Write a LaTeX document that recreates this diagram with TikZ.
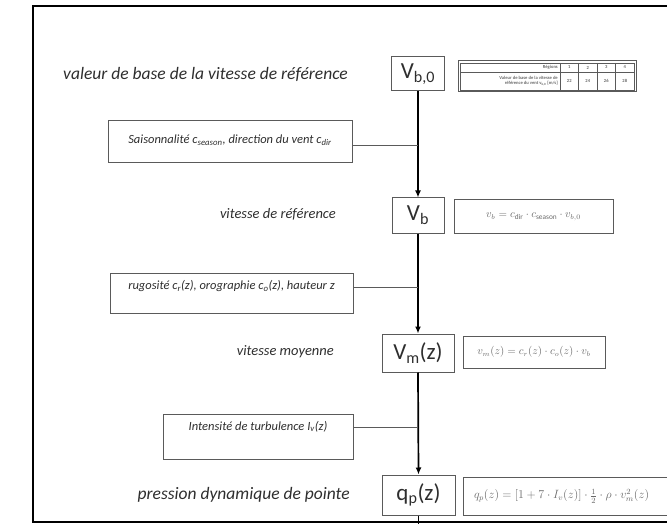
\documentclass[tikz,border=0pt]{standalone}
\usepackage{fontspec}
\setmainfont{Carlito}
\usetikzlibrary{arrows.meta}
\definecolor{boxline}{HTML}{5A5A5A}
\definecolor{ink}{HTML}{2E2E2E}
\definecolor{faint}{HTML}{6A6A6A}
\tikzset{
  frame/.style={draw=black, line width=2pt},
  qtybox/.style={draw=boxline, line width=1pt, inner sep=0pt, text=ink,
    font=\fontsize{23}{25}\selectfont},
  formbox/.style={draw=boxline, line width=1pt, inner sep=0pt, text=faint,
    font=\fontsize{10.5}{12}\selectfont},
  inbox/.style={draw=boxline, line width=0.8pt, inner sep=0pt, text=ink,
    font=\fontsize{12.5}{14}\itshape\selectfont},
  steplabel/.style={text=ink, inner sep=0pt, font=\fontsize{17.5}{19}\itshape\selectfont},
  smalllabel/.style={steplabel, font=\fontsize{14.5}{16}\itshape\selectfont},
  flow/.style={draw=black, line width=1.7pt, -{Latex[length=7pt,width=6pt]}},
  feed/.style={draw=boxline, line width=0.8pt},
}
\begin{document}
\begin{tikzpicture}[x=1pt,y=-1pt]
\useasboundingbox (0,0) rectangle (667,524);
% outer frame, running past the right edge
\begin{scope}
  \clip (0,0) rectangle (667,524);
  \draw[frame] (33,6) rectangle (720,522);
\end{scope}

% quantities in the central column
\node[qtybox, minimum width=53, minimum height=34] (vb0) at (418,74) {V\textsubscript{b,0}};
\node[qtybox, minimum width=52, minimum height=35] (vb) at (418,215.5) {V\textsubscript{b}};
\node[qtybox, minimum width=72, minimum height=38] (vm) at (418,353) {V\textsubscript{m}(z)};
\node[qtybox, minimum width=73, minimum height=40] (qp) at (418.5,495) {q\textsubscript{p}(z)};
\coordinate (bottom) at (418.5,530);

% step descriptions
\node[steplabel, anchor=east] (l0) at (348,74) {valeur de base de la vitesse de référence};
\node[smalllabel, anchor=east] (l1) at (336,214) {vitesse de référence};
\node[smalllabel, anchor=east] (l2) at (334,352) {vitesse moyenne};
\node[steplabel, anchor=east] (l3) at (350,495) {pression dynamique de pointe};

% regional table of basic velocities
\node[draw=boxline, line width=1pt, minimum width=178, minimum height=31, inner sep=0pt] (tab) at (547,76.5) {};
\begin{scope}[draw=boxline, line width=0.5pt]
  \draw (460,63) rectangle (634,90);
  \draw (460,72) -- (634,72);
  \foreach \x in {560,578.5,597,615.5} \draw (\x,63) -- (\x,90);
\end{scope}
\begin{scope}[font=\fontsize{4.6}{5}\bfseries\selectfont, text=faint, inner sep=0pt]
  \node[anchor=east] (treg) at (558,67.5) {Régions};
  \node[anchor=east, align=right] (tval) at (558,81) {Valeur de base de la vitesse de\\référence du vent v\textsubscript{b,0} [m/s]};
  \foreach \x/\r/\v [count=\i] in {569.25/1/22,587.75/2/24,606.25/3/26,624.75/4/28} {
    \node (tr\i) at (\x,67.5) {\r};
    \node (tv\i) at (\x,81) {\v};
  }
\end{scope}

% formula boxes
\node[formbox, minimum width=159, minimum height=33] (fb) at (533.5,216.5)
  {$v_b = c_{\mathrm{dir}}\cdot c_{\mathrm{season}}\cdot v_{b,0}$};
\node[formbox, minimum width=142, minimum height=32] (fm) at (534,352)
  {$v_m(z) = c_r(z)\cdot c_o(z)\cdot v_b$};
\node[formbox, minimum width=240, minimum height=38, text width=228, align=left,
      font=\fontsize{11.5}{13}\selectfont] (fq) at (583,496)
  {\hspace*{5pt}$q_p(z) = \bigl[1+7\cdot I_v(z)\bigr]\cdot\frac{1}{2}\cdot\rho\cdot v_{m}^{2}(z)$};

% influencing factors
\node[inbox, minimum width=244, minimum height=42, text height=9, text depth=4] (s1) at (230,141)
  {Saisonnalité c\textsubscript{season}, direction du vent c\textsubscript{dir}};
\node[inbox, minimum width=243, minimum height=40, text height=9, text depth=16] (s2) at (231.5,293)
  {rugosité c\textsubscript{r}(z), orographie c\textsubscript{o}(z), hauteur z};
\node[inbox, minimum width=190, minimum height=45, text height=9, text depth=22] (s3) at (258,436.5)
  {Intensité de turbulence I\textsubscript{v}(z)};

% main flow
\draw[flow] (vb0.south) -- (vb.north);
\draw[flow] (vb.south) -- (vm.north);
\draw[flow] (vm.south) -- (qp.north);
\draw[draw=black, line width=1.7pt] (qp.south) -- (bottom);

% feeds into the flow
\draw[feed] (s1.east |- 0,145) -- (vb0.south |- 0,145);
\draw[feed] (s2.east |- 0,287) -- (vb.south |- 0,287);
\draw[feed] (s3.east |- 0,427) -- (vm.south |- 0,427);
\end{tikzpicture}
\end{document}
